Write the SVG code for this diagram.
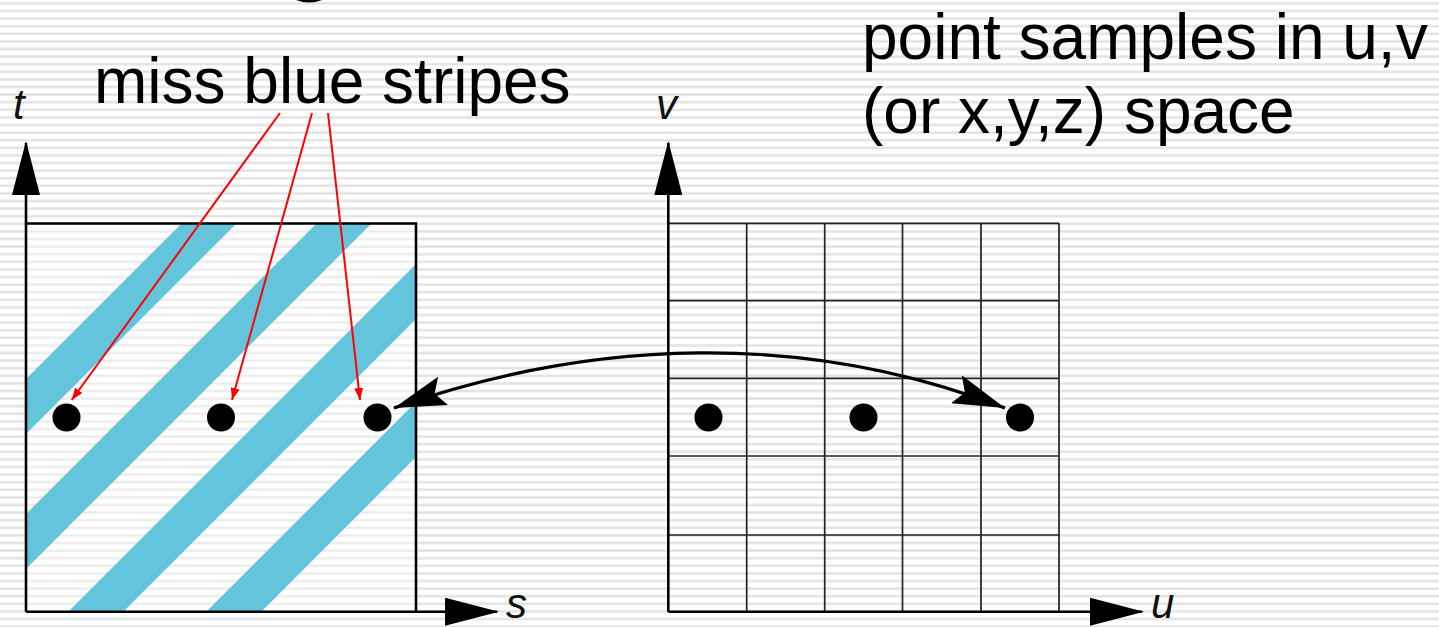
<svg xmlns="http://www.w3.org/2000/svg" width="1439" height="627" viewBox="0 0 1439 627">
  <style>
    .lbl { font-family: "Liberation Sans", Arial, sans-serif; font-size: 64px; fill: #000; }
    .ax { font-family: "Liberation Sans", Arial, sans-serif; font-size: 42px; font-style: italic; fill: #111; }
    .axis { stroke: #000; stroke-width: 2.6; fill: none; }
    .grid { stroke: #222; stroke-width: 1.7; fill: none; }
    .stripe { fill: #64c4dc; }
    .dot { fill: #000; }
    .red { stroke: #ff0000; stroke-width: 2; fill: none; }
  </style>
  <defs>
    <pattern id="bg" x="0" y="0" width="20" height="7.6" patternUnits="userSpaceOnUse">
      <rect width="20" height="7.6" fill="#ffffff"/>
      <rect y="2.2" width="20" height="2.4" fill="#e2e2e2"/>
    </pattern>
    <clipPath id="boxclip">
      <rect x="26" y="223" width="390" height="389"/>
    </clipPath>
    <marker id="axhead" viewBox="0 0 54 28" refX="52" refY="14" markerWidth="54" markerHeight="28" markerUnits="userSpaceOnUse" orient="auto">
      <path d="M0,0 L54,14 L0,28 Z" fill="#000"/>
    </marker>
    <marker id="bighead" viewBox="0 0 52 30" refX="52" refY="15" markerWidth="52" markerHeight="30" markerUnits="userSpaceOnUse" orient="auto-start-reverse">
      <path d="M0,0 L52,15 L0,30 L9,15 Z" fill="#000"/>
    </marker>
    <marker id="redhead" viewBox="0 0 12 9" refX="12" refY="4.5" markerWidth="12" markerHeight="9" markerUnits="userSpaceOnUse" orient="auto">
      <path d="M0,0 L12,4.5 L0,9 Z" fill="#ff0000"/>
    </marker>
  </defs>

  <rect id="background" x="0" y="0" width="1439" height="627" fill="url(#bg)"/>
  <path id="title-sliver" d="M296,0 Q309,5 322,0 Z" fill="#000"/>

  <g id="texture-panel">
    <g clip-path="url(#boxclip)">
      <rect x="26" y="223" width="390" height="389" fill="#ffffff" fill-opacity="0.35"/>
      <polygon class="stripe" points="405,0 460,0 -240,700 -295,700"/>
      <polygon class="stripe" points="540,0 595,0 -105,700 -160,700"/>
      <polygon class="stripe" points="680,0 735,0 35,700 -20,700"/>
      <polygon class="stripe" points="818,0 873,0 173,700 118,700"/>
    </g>
    <polyline class="axis" points="26,223.5 416,223.5 416,611.7"/>
    <line class="axis" x1="26" y1="611.7" x2="26" y2="143" marker-end="url(#axhead)"/>
    <line class="axis" x1="26" y1="611.7" x2="497" y2="611.7" marker-end="url(#axhead)"/>
    <text class="ax" x="13" y="119">t</text>
    <text class="ax" x="506" y="618">s</text>
    <circle class="dot" cx="66.5" cy="417.5" r="14"/>
    <circle class="dot" cx="221" cy="417.5" r="14"/>
    <circle class="dot" cx="377.5" cy="417.5" r="14"/>
  </g>

  <g id="sample-panel">
    <line class="grid" x1="668" y1="223.3" x2="1059" y2="223.3"/>
    <line class="grid" x1="668" y1="300.7" x2="1059" y2="300.7"/>
    <line class="grid" x1="668" y1="378.3" x2="1059" y2="378.3"/>
    <line class="grid" x1="668" y1="456" x2="1059" y2="456"/>
    <line class="grid" x1="668" y1="535" x2="1059" y2="535"/>
    <line class="grid" x1="746.7" y1="223.3" x2="746.7" y2="611.7"/>
    <line class="grid" x1="824.7" y1="223.3" x2="824.7" y2="611.7"/>
    <line class="grid" x1="902.5" y1="223.3" x2="902.5" y2="611.7"/>
    <line class="grid" x1="981" y1="223.3" x2="981" y2="611.7"/>
    <line class="grid" x1="1059" y1="223.3" x2="1059" y2="611.7"/>
    <line class="axis" x1="668.3" y1="611.7" x2="668.3" y2="143" marker-end="url(#axhead)"/>
    <line class="axis" x1="668.3" y1="611.7" x2="1142" y2="611.7" marker-end="url(#axhead)"/>
    <text class="ax" x="656" y="119">v</text>
    <text class="ax" x="1151" y="618">u</text>
    <circle class="dot" cx="708.5" cy="417.5" r="14"/>
    <circle class="dot" cx="863.5" cy="417.5" r="14"/>
    <circle class="dot" cx="1020" cy="417.5" r="14"/>
  </g>

  <g id="label-miss">
    <text class="lbl" x="94" y="102.7">miss blue stripes</text>
  </g>

  <g id="label-point">
    <text class="lbl" x="862" y="59">point samples in u,v</text>
    <text class="lbl" x="862" y="133">(or x,y,z) space</text>
  </g>

  <g id="connectors">
    <line class="red" x1="280" y1="113" x2="71.7" y2="400" marker-end="url(#redhead)"/>
    <line class="red" x1="312" y1="113" x2="232" y2="400" marker-end="url(#redhead)"/>
    <line class="red" x1="328" y1="113" x2="360" y2="400" marker-end="url(#redhead)"/>
    <path d="M394,408 C594,338 805,331 1005,408" stroke="#000" stroke-width="3.2" fill="none" marker-start="url(#bighead)" marker-end="url(#bighead)"/>
  </g>
</svg>
